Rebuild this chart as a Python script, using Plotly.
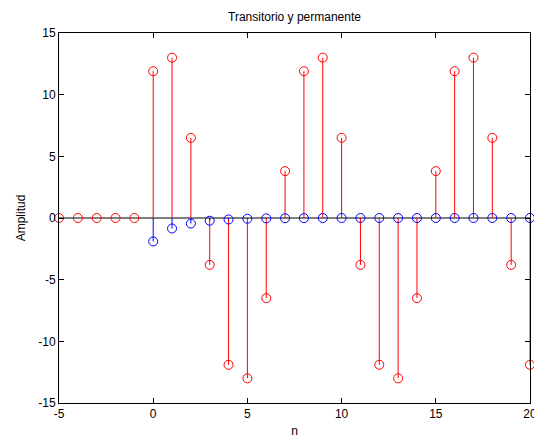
import plotly.graph_objects as go

n_perm = list(range(-5, 21))
y_perm = [0, 0, 0, 0, 0,
          11.9, 13.0, 6.5, -3.8, -11.9, -13.0, -6.5, 3.8,
          11.9, 13.0, 6.5, -3.8, -11.9, -13.0, -6.5, 3.8,
          11.9, 13.0, 6.5, -3.8, -11.9]

n_trans = list(range(0, 21))
y_trans = [-1.9, -0.85, -0.45, -0.22, -0.12, -0.06, -0.03, -0.02, -0.01, 0, 0,
           0, 0, 0, 0, 0, 0, 0, 0, 0, 0]

x_ticks = [-5, 0, 5, 10, 15, 20]
x_tick_text = ["-5", "0", "5", "10", "15", "20"]
y_ticks = [-15, -10, -5, 0, 5, 10, 15]
y_tick_text = ["-15", "-10", "-5", "0", "5", "10", "15"]


def stem_xy(xs, ys):
    sx, sy = [], []
    for x, y in zip(xs, ys):
        sx += [x, x, None]
        sy += [0, y, None]
    return sx, sy


fig = go.Figure()
for xs, ys, col in [(n_perm, y_perm, "#ff0000"), (n_trans, y_trans, "#0000ff")]:
    sx, sy = stem_xy(xs, ys)
    fig.add_trace(go.Scatter(x=sx, y=sy, mode="lines",
                             line=dict(color=col, width=1),
                             hoverinfo="skip", showlegend=False, cliponaxis=False))
    fig.add_trace(go.Scatter(x=xs, y=ys, mode="markers",
                             marker=dict(symbol="circle-open", size=9,
                                         color=col, line=dict(width=1, color=col)),
                             showlegend=False, cliponaxis=False))

fig.add_shape(type="line", x0=-5, x1=20, y0=0, y1=0,
              line=dict(color="black", width=1), layer="below")

font = dict(family="Liberation Sans", size=12, color="black")
axis_common = dict(showgrid=False, zeroline=False, showline=True, linecolor="black",
                   linewidth=1, mirror="ticks", ticks="inside", ticklen=5,
                   tickcolor="black", tickfont=font, ticklabeloverflow="allow",
                   automargin=False)

fig.update_layout(
    width=534, height=438,
    margin=dict(l=59, r=4, t=33, b=35),
    paper_bgcolor="white", plot_bgcolor="white",
    title=dict(text="Transitorio y permanente", x=(59 + 530) / 2 / 534, xanchor="center",
               y=1 - 17 / 438, yanchor="middle", font=font),
    xaxis=dict(range=[-5, 20], tickvals=x_ticks, ticktext=x_tick_text,
               title=dict(text="n", standoff=10, font=font),
               **axis_common),
    yaxis=dict(range=[-15, 15], tickvals=y_ticks, ticktext=y_tick_text,
               title=dict(text="Amplitud", standoff=10, font=font),
               **axis_common),
)

fig.write_html("out.html")
